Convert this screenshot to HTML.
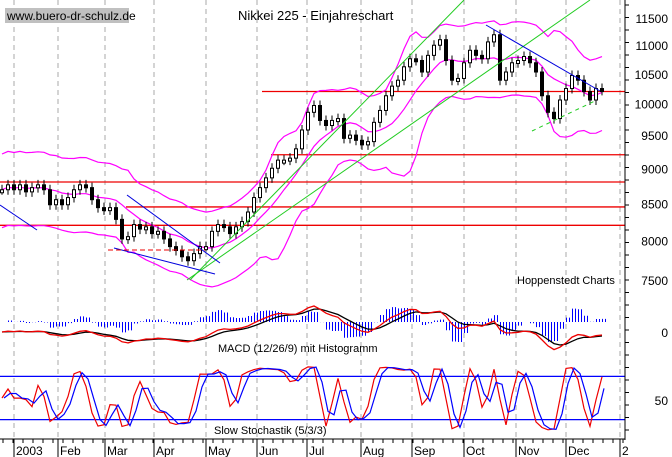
<!DOCTYPE html>
<html><head><meta charset="utf-8"><style>
body{margin:0;background:#fff;}
svg{display:block;font-family:"Liberation Sans",sans-serif;}
</style></head><body>
<svg id="c" width="672" height="457" viewBox="0 0 672 457">
<rect x="0" y="0" width="672" height="457" fill="#fff"/>
<g id="grid"></g>
<g id="hlines"></g>
<g id="boll"></g>
<g id="candles"></g>
<g id="trend"></g>
<g id="macd"></g>
<g id="stoch"></g>
<g id="axes"></g>
<rect x="5" y="8" width="124" height="15" fill="#c0c0c0"/>
<text x="7" y="20" font-size="12" fill="#000">www.buero-dr-schulz.de</text>
<text x="238" y="20" font-size="13" fill="#000">Nikkei 225 - Einjahreschart</text>
<text x="517" y="284" font-size="11" fill="#000">Hoppenstedt Charts</text>
<text x="218" y="352" font-size="11" fill="#000">MACD (12/26/9) mit Histogramm</text>
<text x="214" y="434" font-size="11" fill="#000">Slow Stochastik (5/3/3)</text>
</svg>
<script>
const closes=[8690,8760,8690,8760,8660,8720,8760,8690,8480,8550,8480,8580,8690,8760,8720,8550,8440,8410,8440,8280,8020,8050,8210,8150,8180,8090,8120,8020,7920,7870,7790,7740,7830,7920,7920,8120,8210,8180,8090,8180,8250,8380,8580,8720,8860,9000,9120,9120,9150,9290,9580,9860,9970,9730,9650,9730,9760,9450,9500,9420,9350,9400,9700,9890,10130,10290,10390,10620,10760,10730,10530,10820,11000,11100,10730,10390,10420,10690,10910,10820,10760,11060,11190,10390,10530,10690,10730,10800,10690,10530,10130,9860,9760,10060,10250,10470,10390,10200,10060,10250,10220];
const months=["2003","Feb","Mar","Apr","May","Jun","Jul","Aug","Sep","Oct","Nov","Dec","2"];
const monthX=[14,58,105,154,206,257,307,361,412,464,516,566,620];
const priceTicks=[11500,11000,10500,10000,9500,9000,8500,8000,7500];
const supportLevels=[10200,9200,8800,8450,8200];
const supportStart=[262,271,0,126,0];
const NS='http://www.w3.org/2000/svg';
function el(p,t,a){const e=document.createElementNS(NS,t);for(const k in a)e.setAttribute(k,a[k]);p.appendChild(e);return e;}
const xOf=i=>2+i*6;
const yP=v=>18+613*Math.log(11500/v);
const g=id=>document.getElementById(id);
monthX.forEach((x,i)=>{const l=el(g('grid'),'line',{x1:x,y1:0,x2:x,y2:439,stroke:'#aaa','stroke-dasharray':'5,4'});

});
supportLevels.forEach((v,i)=>{const l=el(g('hlines'),'line',{x1:supportStart[i],y1:yP(v),x2:625,y2:yP(v),stroke:'#e00','stroke-width':1.3});

});
const W=9,up=[],mid=[],lo=[];
closes.forEach((c,i)=>{const s=closes.slice(Math.max(0,i-W+1),i+1);const m=s.reduce((a,b)=>a+b,0)/s.length;const sd=Math.sqrt(s.reduce((a,b)=>a+(b-m)*(b-m),0)/s.length);const sd2=Math.max(sd*1.15,closes[i]*0.03);up.push(m+2*sd2);mid.push(m);lo.push(m-2*sd2);});
[up,mid,lo].forEach(arr=>{const p=el(g('boll'),'polyline',{points:arr.map((v,i)=>xOf(i)+','+yP(v).toFixed(1)).join(' '),fill:'none',stroke:'#f0f',"stroke-width":1.2});

});
closes.forEach((c,i)=>{const o=i?closes[i-1]:c;const x=xOf(i);const y1=yP(Math.max(o,c)),y2=yP(Math.min(o,c));
const w=el(g('candles'),'line',{x1:x,y1:y1-5,x2:x,y2:y2+5,stroke:'#000'});


const r=el(g('candles'),'rect',{x:x-1.5,y:y1,width:3,height:Math.max(3,y2-y1),fill:c<o?'#000':'#fff',stroke:'#000','stroke-width':1});

});
[[190,280,464,0,'#2c2',''],[187,280,590,0,'#2c2',''],[532,131,597,100,'#2c2','4,4'],[0,205,37,230,'#00d',''],[127,195,220,263,'#00d',''],[114,248,215,274,'#00d',''],[108,250,205,250,'#e00','5,3'],[486,25,600,91,'#00d','']].forEach(t=>{
const l=el(g('trend'),'line',{x1:t[0],y1:t[1],x2:t[2],y2:t[3],stroke:t[4],'stroke-dasharray':t[5]});

});
function ema(a,n){const k=2/(n+1);const r=[];a.forEach((v,i)=>r.push(i?v*k+r[i-1]*(1-k):v));return r;}
const e1=ema(closes,5),e2=ema(closes,11);const macd=e1.map((v,i)=>v-e2[i]);const sig=ema(macd,4);
const mMax=Math.max(...macd.map(Math.abs));const mk=26/mMax;const yM=v=>332-v*mk;
const hMax=Math.max(...macd.map((v,i)=>Math.abs(v-sig[i])));
macd.forEach((v,i)=>{const h=(v-sig[i])/hMax*20;[0,3].forEach(d=>{const b=el(g('macd'),'line',{x1:xOf(i)+d+0.5,y1:322,x2:xOf(i)+d+0.5,y2:322-h,stroke:'#00f','stroke-width':1});

});});
const pm=el(g('macd'),'polyline',{points:sig.map((v,i)=>xOf(i)+','+yM(v).toFixed(1)).join(' '),fill:'none',stroke:'#000','stroke-width':1.3});


const pm2=el(g('macd'),'polyline',{points:macd.map((v,i)=>xOf(i)+','+yM(v).toFixed(1)).join(' '),fill:'none',stroke:'#e00','stroke-width':1.3});


const fk=closes.map((c,i)=>{const s=closes.slice(Math.max(0,i-2),i+1);const hi=Math.max(...s)*1.004,lw=Math.min(...s)*0.996;return 100*(c-lw)/(hi-lw);});
const sk=fk.map((v,i)=>i?(v+fk[i-1])/2:v);const sd=sk.map((v,i)=>i?(v+sk[i-1])/2:v);
const yS=v=>434-v*0.72;
[20,80].forEach(v=>{const l=el(g('stoch'),'line',{x1:0,y1:yS(v),x2:625,y2:yS(v),stroke:'#00f','stroke-width':1.3});

});
const s1=el(g('stoch'),'polyline',{points:sk.map((v,i)=>xOf(i)+','+yS(v).toFixed(1)).join(' '),fill:'none',stroke:'#e00','stroke-width':1.2});


const s2=el(g('stoch'),'polyline',{points:sd.map((v,i)=>(xOf(i)+2)+','+yS(v).toFixed(1)).join(' '),fill:'none',stroke:'#00f','stroke-width':1.2});


const ax=g('axes');
el(ax,'line',{x1:625,y1:0,x2:625,y2:440,stroke:'#000'});
el(ax,'line',{x1:0,y1:439,x2:625,y2:439,stroke:'#000'});
for(let y=5;y<440;y+=12.5)el(ax,'line',{x1:625,y1:y,x2:629,y2:y,stroke:'#000'});
priceTicks.forEach(v=>{const t=el(ax,'text',{x:668,y:yP(v)+5,'font-size':12,'text-anchor':'end'});t.textContent=v;

});
[['0',332],['50',400]].forEach(a=>{const t=el(ax,'text',{x:668,y:a[1]+5,'font-size':12,'text-anchor':'end'});t.textContent=a[0];

});
months.forEach((m,i)=>{el(ax,'line',{x1:monthX[i],y1:439,x2:monthX[i],y2:457,stroke:'#000'});
const t=el(ax,'text',{x:monthX[i]+2,y:455,'font-size':12});t.textContent=m;

});
for(let x=3;x<625;x+=10)el(ax,'line',{x1:x,y1:439,x2:x,y2:443,stroke:'#000'});
</script>
</body></html>
